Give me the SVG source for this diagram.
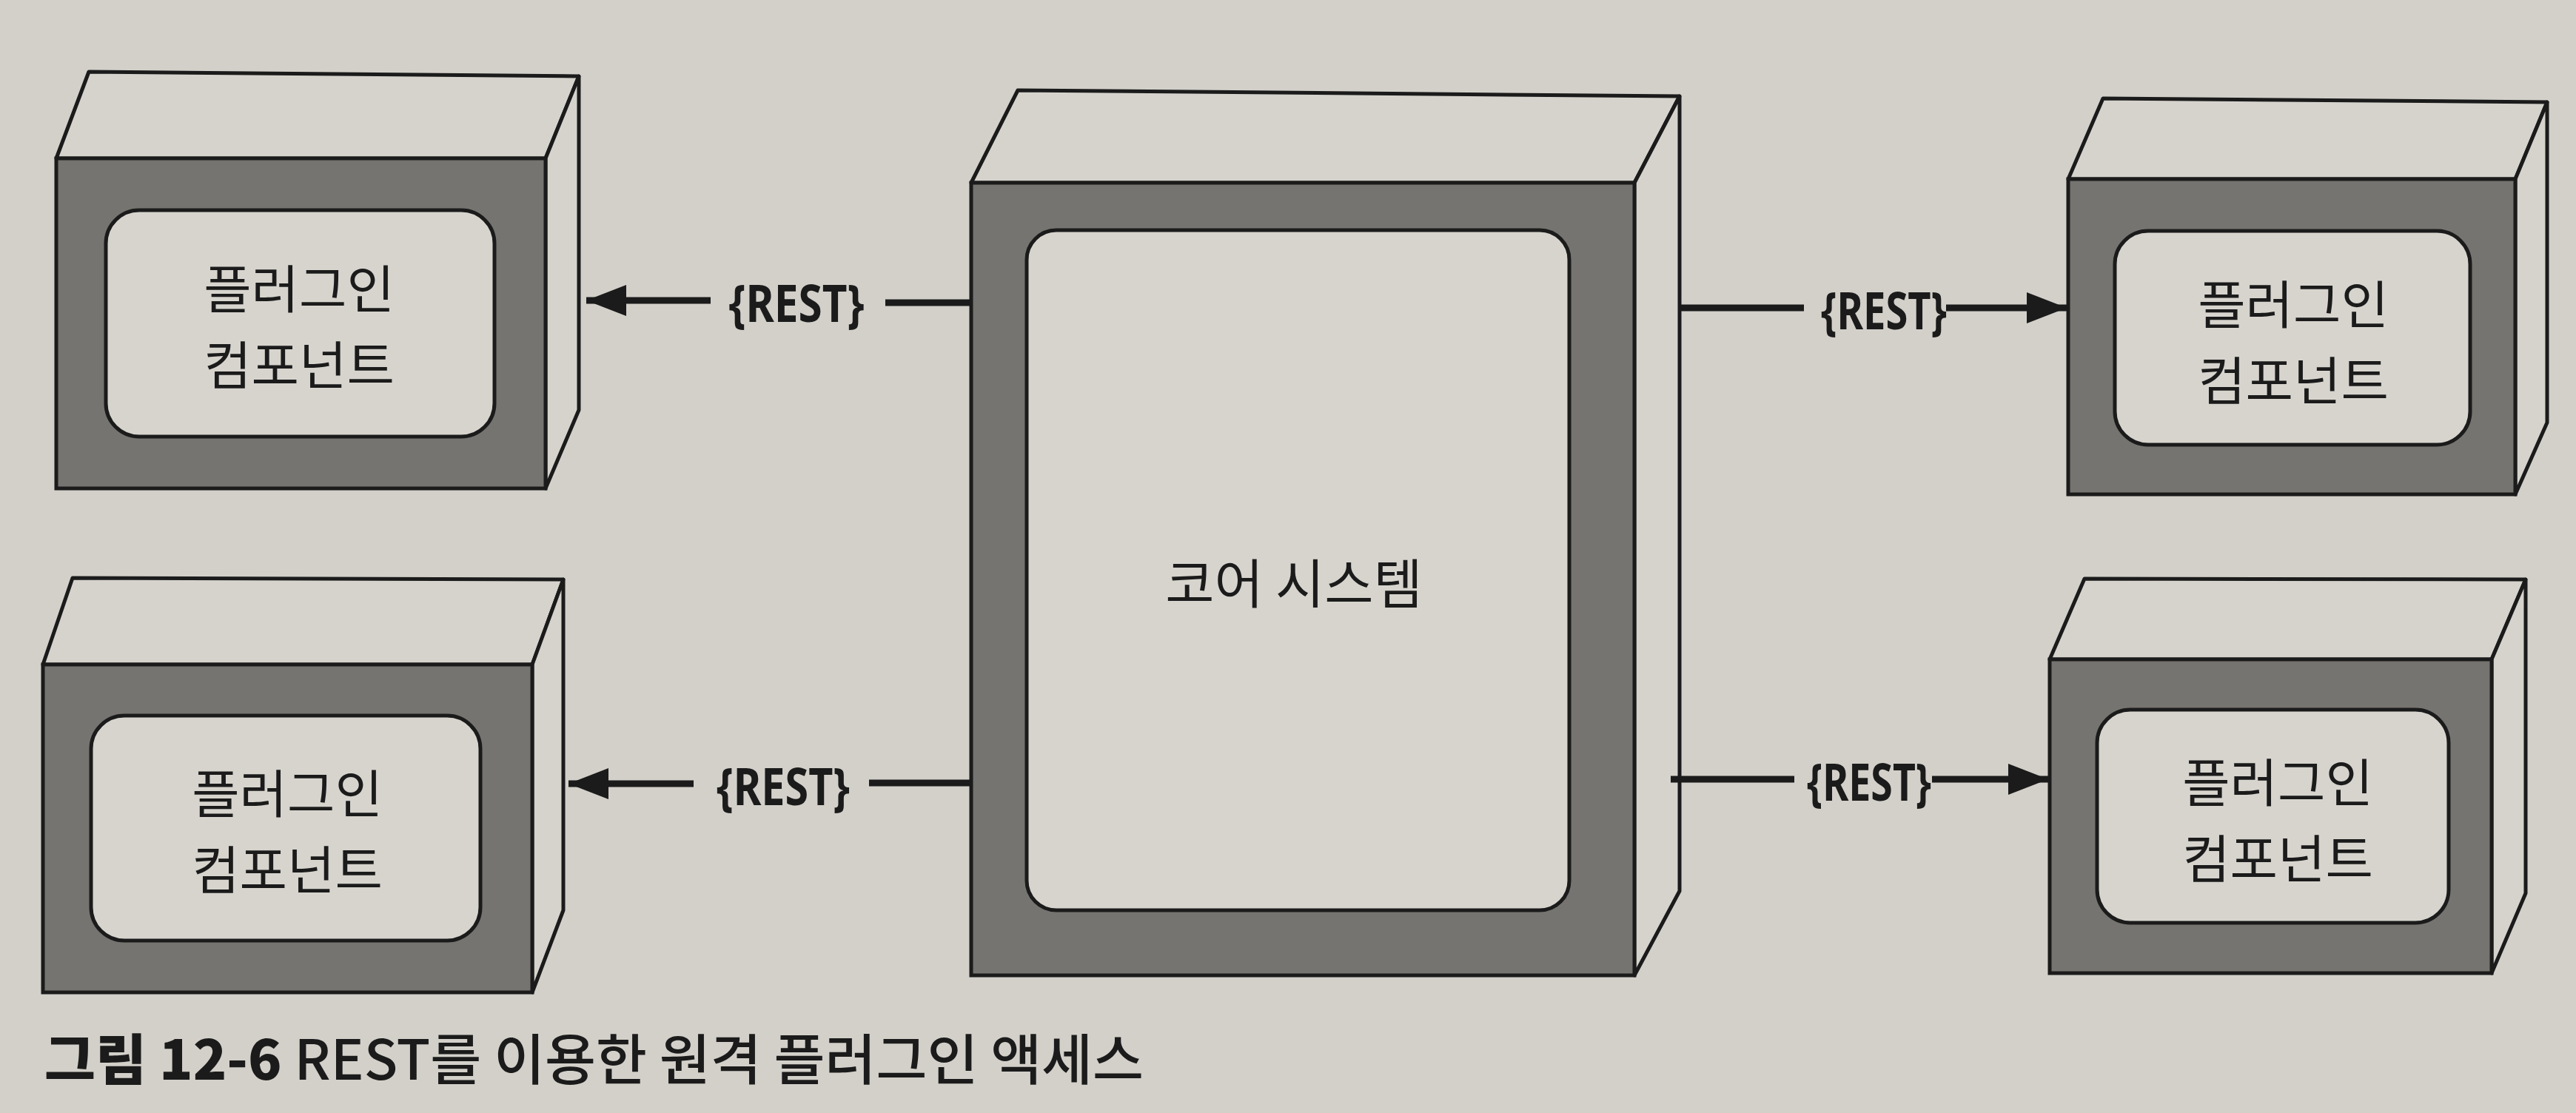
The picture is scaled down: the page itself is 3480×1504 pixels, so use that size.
<svg xmlns="http://www.w3.org/2000/svg" width="3480" height="1504" viewBox="0 0 3480 1504">
<style>
.bg{fill:#d3d0ca}
.face{fill:#d6d3cd;stroke:#1b1b1b;stroke-width:5;stroke-linejoin:round}
.front{fill:#767470;stroke:#1b1b1b;stroke-width:5}
.inner{fill:#d7d4ce;stroke:#1b1b1b;stroke-width:5}
.lbl{font-family:"Noto Sans CJK KR","Noto Sans",sans-serif;font-size:70px;fill:#1b1b1b;text-anchor:middle;dominant-baseline:central}
.core{font-size:72px}
.rest{font-family:"Noto Sans","DejaVu Sans",sans-serif;font-weight:bold;font-size:70px;fill:#1b1b1b;text-anchor:middle;dominant-baseline:central}
.conn{fill:none;stroke:#1b1b1b;stroke-width:9}
.cap{font-family:"Noto Sans CJK KR","Noto Sans",sans-serif;font-size:74px;font-weight:500;fill:#1b1b1b;dominant-baseline:central}
</style>
<defs>
<marker id="arrow" markerUnits="userSpaceOnUse" markerWidth="56" markerHeight="44" refX="54" refY="21" orient="auto">
<path d="M0,0 L54,21 L0,42 z" fill="#1b1b1b"/>
</marker>
</defs>
<rect class="bg" x="0" y="0" width="3480" height="1504"/>

<g id="plugin-top-left">
<polygon class="face" points="120,97 782,103 737,214 76,214"/>
<polygon class="face" points="737,214 782,103 782,554 737,660"/>
<rect class="front" x="76" y="214" width="661" height="446"/>
<rect class="inner" x="143" y="284" width="525" height="306" rx="45"/>
<text class="lbl"><tspan x="404" y="386">플러그인</tspan><tspan x="404" y="489">컴포넌트</tspan></text>
</g>

<g id="plugin-bottom-left">
<polygon class="face" points="98,781 761,783 719,898 58,898"/>
<polygon class="face" points="719,898 761,783 761,1230 719,1341"/>
<rect class="front" x="58" y="898" width="661" height="443"/>
<rect class="inner" x="123" y="967" width="526" height="304" rx="45"/>
<text class="lbl"><tspan x="388" y="1068">플러그인</tspan><tspan x="388" y="1171">컴포넌트</tspan></text>
</g>

<g id="core-system">
<polygon class="face" points="1375,122 2269,130 2208,247 1312,247"/>
<polygon class="face" points="2208,247 2269,130 2269,1204 2208,1318"/>
<rect class="front" x="1312" y="247" width="896" height="1071"/>
<rect class="inner" x="1387" y="311" width="733" height="919" rx="40"/>
<text class="lbl core" x="1748" y="783">코어 시스템</text>
</g>

<g id="plugin-top-right">
<polygon class="face" points="2841,133 3441,138 3398,242 2794,242"/>
<polygon class="face" points="3398,242 3441,138 3441,571 3398,668"/>
<rect class="front" x="2794" y="242" width="604" height="426"/>
<rect class="inner" x="2857" y="312" width="480" height="289" rx="45"/>
<text class="lbl"><tspan x="3098" y="407">플러그인</tspan><tspan x="3098" y="510">컴포넌트</tspan></text>
</g>

<g id="plugin-bottom-right">
<polygon class="face" points="2816,782 3412,783 3366,891 2769,891"/>
<polygon class="face" points="3366,891 3412,783 3412,1207 3366,1315"/>
<rect class="front" x="2769" y="891" width="597" height="424"/>
<rect class="inner" x="2833" y="959" width="475" height="288" rx="45"/>
<text class="lbl"><tspan x="3077" y="1053">플러그인</tspan><tspan x="3077" y="1156">컴포넌트</tspan></text>
</g>

<g id="connectors">
<path class="conn" d="M1312,409 H1196 M960,406 H792" marker-end="url(#arrow)"/>
<text class="rest" x="1076" y="408" textLength="183" lengthAdjust="spacingAndGlyphs">{REST}</text>
<path class="conn" d="M1312,1058 H1174 M937,1059 H768" marker-end="url(#arrow)"/>
<text class="rest" x="1058" y="1061" textLength="180" lengthAdjust="spacingAndGlyphs">{REST}</text>
<path class="conn" d="M2269,416 H2437 M2629,416 H2792" marker-end="url(#arrow)"/>
<text class="rest" x="2545" y="418" textLength="170" lengthAdjust="spacingAndGlyphs">{REST}</text>
<path class="conn" d="M2257,1053 H2424 M2610,1053 H2767" marker-end="url(#arrow)"/>
<text class="rest" x="2525" y="1055" textLength="168" lengthAdjust="spacingAndGlyphs">{REST}</text>
</g>

<text class="cap" x="60" y="1426" textLength="1485" lengthAdjust="spacingAndGlyphs"><tspan font-weight="900">그림 12-6</tspan> REST를 이용한 원격 플러그인 액세스</text>
</svg>
